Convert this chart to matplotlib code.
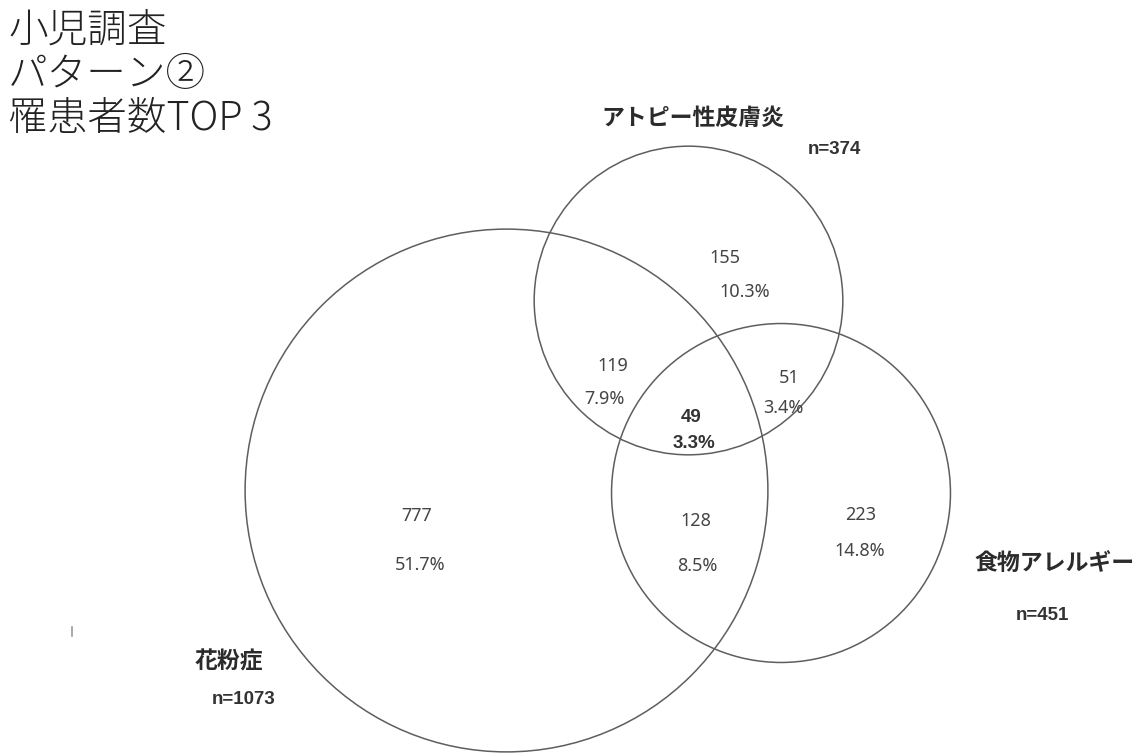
import matplotlib
matplotlib.use("Agg")
import matplotlib.pyplot as plt
from matplotlib.patches import Circle
import numpy as np

plt.rcParams['font.family'] = ['Noto Sans CJK JP', 'DejaVu Sans']

# Survey groups and their totals
groups = ["花粉症", "アトピー性皮膚炎", "食物アレルギー"]
group_totals = [1073, 374, 451]

# Region counts: only A, only B, only C, A&B, A&C, B&C, A&B&C
region_keys = ["A", "B", "C", "AB", "AC", "BC", "ABC"]
region_counts = [777, 155, 223, 119, 128, 51, 49]

title_lines = ["小児調査", "パターン②", "罹患者数TOP 3"]

W, H = 1148, 754
fig = plt.figure(figsize=(W / 100, H / 100), dpi=100)
ax = fig.add_axes([0, 0, 1, 1])
ax.set_xlim(0, W)
ax.set_ylim(H, 0)
ax.set_aspect('equal')
ax.axis('off')

# circle layout (pixel space); radius scales with sqrt of the group size
centers = [(506.5, 490.5), (688.5, 300.5), (781, 493)]
scale = 7.98
for (cx, cy), n in zip(centers, group_totals):
    ax.add_patch(Circle((cx, cy), scale * np.sqrt(n), fill=False,
                        edgecolor='#5e5e5e', linewidth=1.1))

total = sum(region_counts)
region_pos = {
    "A":   ((417, 516), (420, 565)),
    "B":   ((725, 258), (745, 292)),
    "C":   ((861, 515), (860, 551)),
    "AB":  ((613, 366), (604, 399)),
    "AC":  ((696, 521), (697, 566)),
    "BC":  ((789, 378), (783, 408)),
    "ABC": ((691, 418), (694, 444)),
}
for key, cnt in zip(region_keys, region_counts):
    (nx, ny), (px, py) = region_pos[key]
    if key == "ABC":
        style = dict(fontsize=13.5, color='#333333', fontweight='bold',
                     family='Liberation Sans')
    else:
        style = dict(fontsize=13, color='#444444', fontweight='normal',
                     family='Noto Sans')
    ax.text(nx, ny, f"{cnt}", ha='center', va='center', **style)
    ax.text(px, py, f"{cnt / total * 100:.1f}%", ha='center', va='center',
            **style)

# group names and sizes
name_pos = [(229, 662), (693, 118), (1055, 563)]
n_pos = [(244, 700), (834, 150), (1042, 615)]
for g, n, (gx, gy), (nx, ny) in zip(groups, group_totals, name_pos, n_pos):
    ax.text(gx, gy, g, ha='center', va='center', fontsize=16.5,
            fontweight='bold', color='#2b2b2b')
    ax.text(nx, ny, f"n={n}", ha='center', va='center', fontsize=13.5,
            fontweight='bold', color='#333333', family='Liberation Sans')

# title block
for i, line in enumerate(title_lines):
    ax.text(8, 31 + i * 44, line, ha='left', va='center', fontsize=28.5,
            color='#222222', fontweight='light')

# small mark at left
ax.plot([72, 72], [627, 636], color='#999999', linewidth=1.2)

fig.savefig("out.png", dpi=100, facecolor='white')
